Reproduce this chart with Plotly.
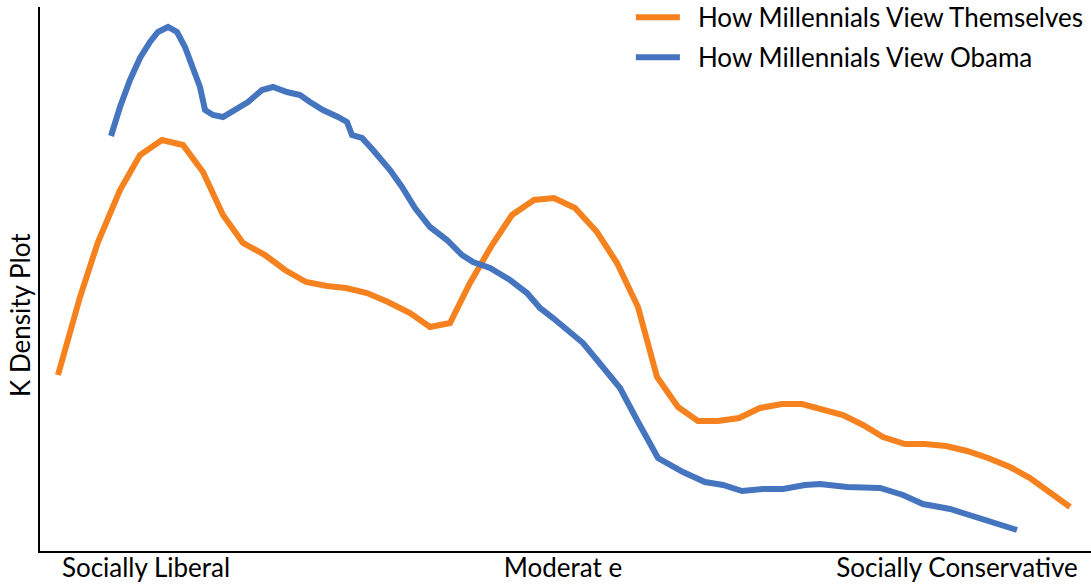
import plotly.graph_objects as go

# x: position on the liberal -> conservative scale, y: estimated density
self_x = [18, 40, 58, 80, 100, 122, 143, 163, 183, 203, 225, 245, 266, 287, 306, 327, 348,
          370, 390, 410, 430, 452, 472, 494, 514, 535, 557, 577, 598, 617, 638, 658, 678, 699,
          720, 742, 762, 783, 803, 823, 843, 865, 885, 906, 927, 948, 970, 990, 1010, 1030]
self_y = [176, 254, 309, 361, 396, 411, 406, 379, 336, 308, 296, 281, 269, 265, 263, 258, 249,
          238, 224, 228, 268, 306, 336, 351, 353, 343, 319, 288, 244, 174, 144, 130, 130, 133,
          143, 147, 147, 142, 136, 126, 114, 107, 107, 105, 100, 93, 84, 73, 58, 44]

obama_x = [71, 80, 90, 100, 110, 118, 128, 137, 145, 153, 160, 165, 173, 183, 195, 208, 222,
           233, 247, 260, 270, 283, 298, 307, 312, 322, 333, 350, 362, 375, 390, 407, 422, 433,
           450, 470, 487, 500, 513, 530, 543, 557, 572, 580, 597, 618, 643, 665, 683, 702, 723,
           743, 765, 780, 807, 840, 863, 883, 910, 943, 977]
obama_y = [415, 444, 471, 493, 509, 519, 524, 519, 504, 484, 464, 441, 436, 434, 441, 449, 461,
           464, 459, 456, 449, 441, 434, 429, 416, 413, 401, 381, 364, 343, 324, 311, 296, 289,
           283, 271, 258, 243, 233, 218, 208, 191, 173, 163, 131, 93, 79, 69, 66, 60, 62,
           62, 66, 67, 64, 63, 56, 47, 42, 32, 21]

tick_vals = [106, 523, 917]
tick_text = ["Socially Liberal", "Moderat e", "Socially Conservative"]

FONT = "Lato, Calibri, 'Open Sans', sans-serif"
GAP = "\u2002"  # a bit more room between legend line and label

fig = go.Figure()
fig.add_trace(go.Scatter(
    x=self_x, y=self_y, mode="lines", name=GAP + "How Millennials View Themselves",
    legendgroup="a", line=dict(color="#F5821F", width=6),
))
fig.add_trace(go.Scatter(
    x=obama_x, y=obama_y, mode="lines", name=GAP + "How Millennials View Obama",
    legendgroup="b", line=dict(color="#4575BF", width=6),
))

fig.update_xaxes(
    range=[0, 1051], showgrid=False, zeroline=False, automargin=False,
    showline=True, linecolor="black", linewidth=1.5,
    tickmode="array", tickvals=tick_vals, ticktext=tick_text, ticks="",
    tickfont=dict(size=26, color="black", family=FONT), ticklabelstandoff=-7,
)
fig.update_yaxes(
    range=[0, 544], showgrid=False, zeroline=False, automargin=False,
    showline=True, linecolor="black", linewidth=1.5, showticklabels=False, ticks="",
)

fig.add_annotation(
    text="K Density Plot", textangle=-90, xref="paper", yref="paper",
    x=-0.019, y=0.434, xanchor="center", yanchor="middle", showarrow=False,
    font=dict(size=26, color="black", family=FONT),
)

fig.update_layout(
    width=1091, height=586,
    margin=dict(l=40, r=0, t=7, b=35, autoexpand=False),
    plot_bgcolor="white", paper_bgcolor="white",
    font=dict(family=FONT, color="black"),
    legend=dict(
        x=0.998, y=1.024, xanchor="right", yanchor="top",
        font=dict(size=26, color="black", family=FONT),
        bgcolor="rgba(0,0,0,0)", tracegroupgap=3, traceorder="grouped",
        itemwidth=44,
    ),
)

# the page's default body margin would shift the figure by 8px
fig.write_html("out.html", config={"displayModeBar": False},
               post_script="document.body.style.margin='0';")
